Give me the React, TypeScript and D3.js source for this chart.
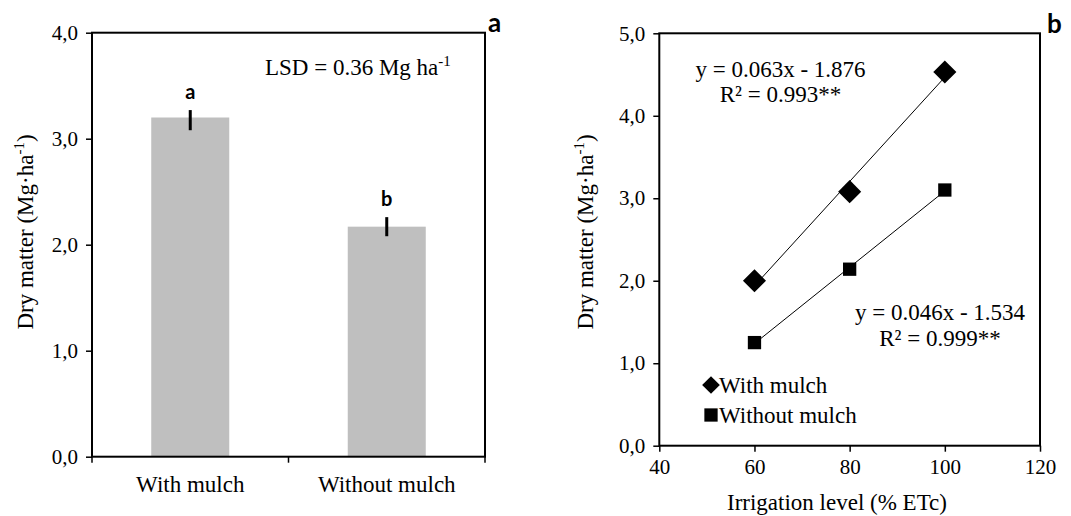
import React, { useEffect, useRef } from 'react';
import * as d3 from 'd3';

// panel a: bar chart
const treatments = ['With mulch', 'Without mulch'];
const dryMatter = [3.2, 2.17];
const errUp = [0.07, 0.09];
const errDown = [0.12, 0.09];
const groupLetters = ['a', 'b'];
const barTicks = [0, 1, 2, 3, 4];

// panel b: scatter with linear fits
const irrigation = [60, 80, 100];
const withMulch = [2.0, 3.08, 4.53];
const withoutMulch = [1.25, 2.14, 3.1];
const scatterYTicks = [0, 1, 2, 3, 4, 5];
const scatterXTicks = [40, 60, 80, 100, 120];
const eqWith = ['y = 0.063x - 1.876', 'R² = 0.993**'];
const eqWithout = ['y = 0.046x - 1.534', 'R² = 0.999**'];

const SERIF = '"Liberation Serif", "Times New Roman", serif';
const SANS = 'Lato, "Open Sans", sans-serif';

const fmt = (d: number) => d.toFixed(1).replace('.', ',');

const fit = (xs: number[], ys: number[]) => {
  const mx = d3.mean(xs)!;
  const my = d3.mean(ys)!;
  const slope = d3.sum(xs, (x, i) => (x - mx) * (ys[i] - my)) / d3.sum(xs, x => (x - mx) ** 2);
  return { slope, icpt: my - slope * mx };
};

const yTitle = (g: any, x: number, y: number) => {
  const t = g.append('text')
    .attr('transform', `translate(${x},${y}) rotate(-90)`)
    .attr('text-anchor', 'middle')
    .attr('font-family', SERIF)
    .attr('font-size', 23);
  t.append('tspan').text('Dry matter (Mg·ha');
  t.append('tspan').attr('font-size', 15).attr('dy', -9).text('-1');
  t.append('tspan').attr('dy', 9).text(')');
};

const App = () => {
  const ref = useRef<SVGSVGElement>(null);

  useEffect(() => {
    const svg = d3.select(ref.current);
    svg.selectAll('*').remove();

    // ---------- panel a ----------
    const L = { left: 92, right: 485, top: 32.7, bottom: 456.7 };
    const yA = d3.scaleLinear().domain([0, 4]).range([L.bottom, L.top]);
    const xA = d3.scaleBand().domain(treatments).range([L.left, L.right]).paddingInner(0.603).paddingOuter(0.3015);

    const a = svg.append('g');
    a.selectAll('rect.bar').data(treatments).enter().append('rect')
      .attr('class', 'bar')
      .attr('x', d => xA(d)!)
      .attr('y', (d, i) => yA(dryMatter[i]))
      .attr('width', xA.bandwidth())
      .attr('height', (d, i) => L.bottom - yA(dryMatter[i]))
      .attr('fill', '#bfbfbf');

    a.selectAll('line.err').data(treatments).enter().append('line')
      .attr('x1', d => xA(d)! + xA.bandwidth() / 2)
      .attr('x2', d => xA(d)! + xA.bandwidth() / 2)
      .attr('y1', (d, i) => yA(dryMatter[i] + errUp[i]))
      .attr('y2', (d, i) => yA(dryMatter[i] - errDown[i]))
      .attr('stroke', '#000').attr('stroke-width', 3);

    a.selectAll('text.letter').data(treatments).enter().append('text')
      .attr('x', d => xA(d)! + xA.bandwidth() / 2)
      .attr('y', (d, i) => yA(dryMatter[i] + errUp[i]) - 11)
      .attr('text-anchor', 'middle')
      .attr('font-family', SANS).attr('font-weight', 'bold').attr('font-size', 20)
      .text((d, i) => groupLetters[i]);

    a.append('g')
      .attr('transform', `translate(${L.left},0)`)
      .call(d3.axisLeft(yA).tickValues(barTicks).tickFormat(d => fmt(+d)).tickSize(6).tickSizeOuter(0))
      .call(g => g.select('.domain').remove())
      .call(g => g.selectAll('line').attr('stroke-width', 1.5))
      .call(g => g.selectAll('text').attr('font-family', SERIF).attr('font-size', 21).attr('fill', '#000').attr('x', -14));

    // category boundary ticks
    a.selectAll('line.xt').data(d3.range(treatments.length + 1)).enter().append('line')
      .attr('x1', i => L.left + i * xA.step()).attr('x2', i => L.left + i * xA.step())
      .attr('y1', L.bottom).attr('y2', L.bottom + 6)
      .attr('stroke', '#000').attr('stroke-width', 1.5);

    a.selectAll('text.cat').data(treatments).enter().append('text')
      .attr('x', d => xA(d)! + xA.bandwidth() / 2)
      .attr('y', L.bottom + 35)
      .attr('text-anchor', 'middle')
      .attr('font-family', SERIF).attr('font-size', 23)
      .text(d => d);

    a.append('rect')
      .attr('x', L.left).attr('y', L.top)
      .attr('width', L.right - L.left).attr('height', L.bottom - L.top)
      .attr('fill', 'none').attr('stroke', '#000').attr('stroke-width', 2);

    const lsd = a.append('text').attr('x', 265).attr('y', 75).attr('font-family', SERIF).attr('font-size', 23);
    lsd.append('tspan').text('LSD = 0.36 Mg ha');
    lsd.append('tspan').attr('font-size', 15).attr('dy', -9).text('-1');

    yTitle(a, 33, 232);

    a.append('text').attr('x', 488).attr('y', 32)
      .attr('font-family', SANS).attr('font-weight', 'bold').attr('font-size', 26).text('a');

    // ---------- panel b ----------
    const R = { left: 659.3, right: 1040, top: 33.3, bottom: 445.7 };
    const xB = d3.scaleLinear().domain([40, 120]).range([R.left, R.right]);
    const yB = d3.scaleLinear().domain([0, 5]).range([R.bottom, R.top]);
    const b = svg.append('g');

    b.append('g')
      .attr('transform', `translate(${R.left},0)`)
      .call(d3.axisLeft(yB).tickValues(scatterYTicks).tickFormat(d => fmt(+d)).tickSize(6).tickSizeOuter(0))
      .call(g => g.select('.domain').remove())
      .call(g => g.selectAll('line').attr('stroke-width', 1.5))
      .call(g => g.selectAll('text').attr('font-family', SERIF).attr('font-size', 21).attr('fill', '#000').attr('x', -14));

    b.append('g')
      .attr('transform', `translate(0,${R.bottom})`)
      .call(d3.axisBottom(xB).tickValues(scatterXTicks).tickFormat(d => String(d)).tickSize(6).tickSizeOuter(0))
      .call(g => g.select('.domain').remove())
      .call(g => g.selectAll('line').attr('stroke-width', 1.5))
      .call(g => g.selectAll('text').attr('font-family', SERIF).attr('font-size', 21).attr('fill', '#000').attr('y', 13));

    b.append('rect')
      .attr('x', R.left).attr('y', R.top)
      .attr('width', R.right - R.left).attr('height', R.bottom - R.top)
      .attr('fill', 'none').attr('stroke', '#000').attr('stroke-width', 2);

    const series = [
      { ys: withMulch, sym: d3.symbolDiamond2, size: 340, legendSize: 200 },
      { ys: withoutMulch, sym: d3.symbolSquare2, size: 225, legendSize: 225 },
    ];

    series.forEach(s => {
      const { slope, icpt } = fit(irrigation, s.ys);
      const x0 = d3.min(irrigation)!;
      const x1 = d3.max(irrigation)!;
      b.append('line')
        .attr('x1', xB(x0)).attr('y1', yB(slope * x0 + icpt))
        .attr('x2', xB(x1)).attr('y2', yB(slope * x1 + icpt))
        .attr('stroke', '#000').attr('stroke-width', 1);
      b.selectAll(null).data(irrigation).enter().append('path')
        .attr('transform', (d, i) => `translate(${xB(d)},${yB(s.ys[i])})`)
        .attr('d', d3.symbol(s.sym, s.size)()!)
        .attr('fill', '#000');
    });

    const eq = (lines: string[], cx: number, y0: number) => {
      lines.forEach((l, i) => {
        b.append('text').attr('x', cx).attr('y', y0 + i * 25.5)
          .attr('text-anchor', 'middle')
          .attr('font-family', SERIF).attr('font-size', 23).text(l);
      });
    };
    eq(eqWith, 780.5, 76.5);
    eq(eqWithout, 940, 320);

    // legend
    const legendNames = ['With mulch', 'Without mulch'];
    legendNames.forEach((n, i) => {
      const ly = 385 + i * 30;
      b.append('path')
        .attr('transform', `translate(711,${ly})`)
        .attr('d', d3.symbol(series[i].sym, series[i].legendSize)()!)
        .attr('fill', '#000');
      b.append('text').attr('x', 719).attr('y', ly + 8)
        .attr('font-family', SERIF).attr('font-size', 23).text(n);
    });

    b.append('text').attr('x', 837).attr('y', 510)
      .attr('text-anchor', 'middle')
      .attr('font-family', SERIF).attr('font-size', 23).text('Irrigation level (% ETc)');

    yTitle(b, 593, 232);

    b.append('text').attr('x', 1047).attr('y', 33)
      .attr('font-family', SANS).attr('font-weight', 'bold').attr('font-size', 26).text('b');
  }, []);

  return (
    <svg ref={ref} width={1071} height={516} style={{ position: 'absolute', left: 0, top: 0, background: '#fff' }}></svg>
  );
};

export default App;
